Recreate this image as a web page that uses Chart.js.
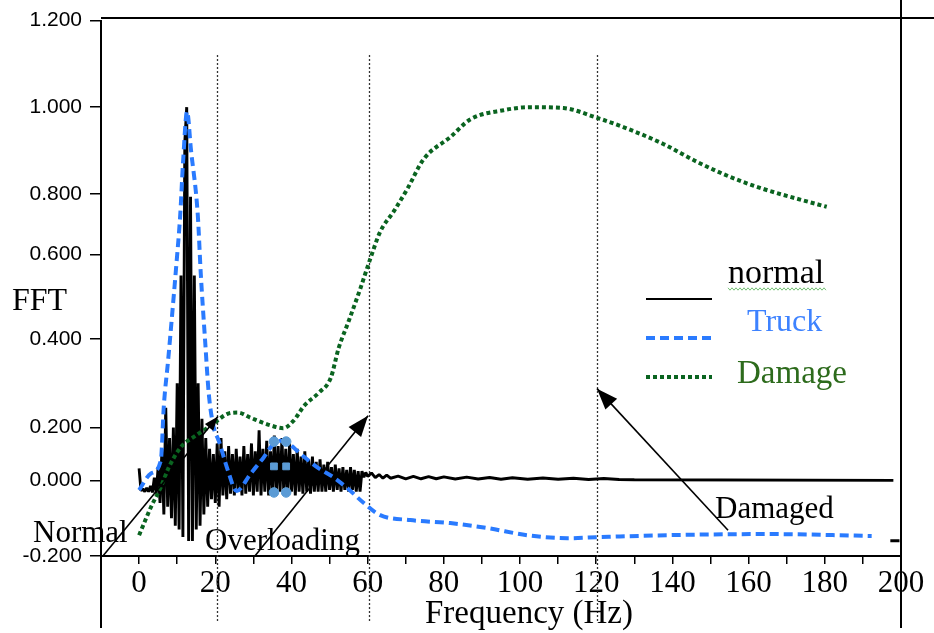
<!DOCTYPE html>
<html>
<head>
<meta charset="utf-8">
<script src="https://cdn.jsdelivr.net/npm/chart.js@4.4.0/dist/chart.umd.min.js"></script>
<style>
  html, body { margin: 0; padding: 0; background: #fff; }
  canvas { display: block; }
</style>
</head>
<body>
<canvas id="fft" width="934" height="633"></canvas>
<script>
// ---- data ----
const xTickValues = [-10, 0, 10, 20, 30, 40, 50, 60, 70, 80, 90, 100, 110, 120, 130, 140, 150, 160, 170, 180, 190, 200];
const xTickLabels = [0, 20, 40, 60, 80, 100, 120, 140, 160, 180, 200];
const yTickValues = [-0.2, 0, 0.2, 0.4, 0.6, 0.8, 1.0, 1.2];

// normal: dense FFT bins (0.5 Hz) up to 58 Hz, then a sparse tail
const normalBin = 0.5;
const normalDense = [
  0.045, -0.028, -0.022, -0.03, -0.02, -0.03, -0.015, -0.032, 0.01, -0.035,
  0.05, -0.06, 0.12, -0.09, 0.245, -0.07, 0.16, -0.1, 0.2, -0.12,
  0.3, -0.13, 0.55, -0.15, 0.92, 1.0, -0.16, 0.79, -0.16, 0.55,
  -0.13, 0.3, -0.12, 0.22, -0.09, 0.16, -0.07, 0.12, -0.05, 0.1,
  -0.06, 0.14, -0.07, 0.16, -0.04, 0.11, -0.05, 0.13, -0.035, 0.1,
  -0.04, 0.12, -0.03, 0.09, -0.04, 0.13, -0.035, 0.1, -0.03, 0.14,
  -0.04, 0.11, -0.03, 0.19, -0.04, 0.12, -0.03, 0.15, -0.04, 0.11,
  -0.035, 0.17, -0.04, 0.13, -0.03, 0.16, -0.04, 0.12, -0.035, 0.14,
  -0.03, 0.1, -0.04, 0.12, -0.03, 0.09, -0.035, 0.11, -0.03, 0.08,
  -0.035, 0.09, -0.03, 0.07, -0.03, 0.08, -0.03, 0.06, -0.03, 0.07,
  -0.025, 0.05, -0.03, 0.06, -0.025, 0.045, -0.03, 0.05, -0.025, 0.04,
  -0.03, 0.05, -0.025, 0.04, -0.03, 0.035, -0.03
];
const normalTailX = [58.5, 59, 59.5, 60, 61, 62, 63, 64, 65, 66, 68, 70, 72, 74, 76, 78, 80, 83, 86, 89, 92, 95, 98, 102, 106, 110, 114, 118, 122, 126, 130, 198];
const normalTailY = [0.035, 0.012, 0.03, 0.015, 0.028, 0.01, 0.022, 0.008, 0.02, 0.008, 0.016, 0.006, 0.015, 0.006, 0.014, 0.006, 0.013, 0.005, 0.012, 0.005, 0.011, 0.004, 0.01, 0.004, 0.009, 0.004, 0.008, 0.003, 0.007, 0.003, 0.002, 0.0];

const truckX = [0, 3.1, 5.7, 6.5, 7.6, 8.6, 9.7, 10.8, 11.5, 12.6, 13.6, 15.4, 16.2, 17.3, 18.3, 19.6, 20.9, 23.3, 25.6, 29.3, 32.7, 35.4, 37.2, 38.9, 42.4, 46.8, 51.1, 54.7, 59, 63.3, 71.2, 81.7, 91.4, 101.9, 112.4, 121, 138.6, 164.8, 192.3];
const truckY = [-0.026, 0.026, 0.075, 0.25, 0.35, 0.45, 0.567, 0.731, 0.867, 0.99, 0.903, 0.731, 0.553, 0.4, 0.276, 0.2, 0.151, 0.038, -0.028, 0.026, 0.087, 0.14, 0.15, 0.143, 0.1, 0.049, 0.011, -0.021, -0.06, -0.092, -0.105, -0.113, -0.126, -0.145, -0.153, -0.15, -0.145, -0.142, -0.147];

const damageX = [0, 3.1, 5.7, 7.8, 10.9, 14.9, 18.8, 23.2, 25.9, 29.3, 34.5, 37.8, 40.5, 43.3, 47.2, 50.3, 52.4, 55, 58.1, 60.7, 63.3, 66.8, 70.4, 74.7, 81.7, 87, 95.7, 102.6, 111.4, 119.7, 127.1, 137.6, 146.4, 155.1, 163.9, 172.6, 180.5];
const damageY = [-0.145, -0.071, -0.018, 0.049, 0.125, 0.17, 0.204, 0.231, 0.234, 0.222, 0.205, 0.198, 0.215, 0.249, 0.279, 0.312, 0.38, 0.442, 0.52, 0.59, 0.675, 0.741, 0.811, 0.88, 0.931, 0.972, 0.993, 1.0, 0.998, 0.977, 0.954, 0.915, 0.874, 0.839, 0.811, 0.784, 0.757];

// stray selection handles left in the figure
const markX = [35.4, 38.6, 35.4, 38.6, 35.4, 38.6];
const markY = [0.147, 0.147, 0.053, 0.053, -0.032, -0.032];
const markShape = ['circle', 'circle', 'rect', 'rect', 'circle', 'circle'];
const edgeX = [197.2, 199.6];
const edgeY = [-0.16, -0.16];

// dotted reference lines (Hz)
const markerFreqs = [20.5, 60.4, 120.2];

// ---- y axis of the original is not evenly spaced: map tick values to fractions of the height ----
const yKnotFractions = [0, 0.1413, 0.2398, 0.4052, 0.5632, 0.6766, 0.8383, 1];

function toFraction(v) {
  const k = yTickValues, f = yKnotFractions;
  let i = 0;
  while (i < k.length - 2 && v > k[i + 1]) i++;
  return f[i] + (v - k[i]) / (k[i + 1] - k[i]) * (f[i + 1] - f[i]);
}
function fromFraction(d) {
  const k = yTickValues, f = yKnotFractions;
  let i = 0;
  while (i < f.length - 2 && d > f[i + 1]) i++;
  return k[i] + (d - f[i]) / (f[i + 1] - f[i]) * (k[i + 1] - k[i]);
}

class KnotScale extends Chart.LinearScale {
  getPixelForValue(value) {
    return this.getPixelForDecimal(toFraction(value));
  }
  getValueForPixel(pixel) {
    return fromFraction(this.getDecimalForPixel(pixel));
  }
}
KnotScale.id = 'knot';
KnotScale.defaults = Chart.LinearScale.defaults;
Chart.register(KnotScale);

const zip = (xs, ys) => xs.map((x, i) => ({ x: x, y: ys[i] }));
const normalData = normalDense.map((y, i) => ({ x: i * normalBin, y: y })).concat(zip(normalTailX, normalTailY));

const SERIF = '"Liberation Serif", "Times New Roman", serif';
const SANS = '"Liberation Sans", Arial, sans-serif';

function drawArrow(ctx, x1, y1, x2, y2, head) {
  ctx.beginPath();
  ctx.moveTo(x1, y1);
  ctx.lineTo(x2, y2);
  ctx.stroke();
  const a = Math.atan2(y2 - y1, x2 - x1);
  const w = head * 0.38;
  const bx = x2 - head * Math.cos(a), by = y2 - head * Math.sin(a);
  ctx.beginPath();
  ctx.moveTo(x2, y2);
  ctx.lineTo(bx + w * Math.sin(a), by - w * Math.cos(a));
  ctx.lineTo(bx - w * Math.sin(a), by + w * Math.cos(a));
  ctx.closePath();
  ctx.fill();
}

const decor = {
  id: 'decor',
  beforeDatasetsDraw(chart) {
    const { ctx, scales: { x } } = chart;
    ctx.save();
    ctx.strokeStyle = '#333';
    ctx.lineWidth = 1.3;
    ctx.setLineDash([2, 2]);
    markerFreqs.forEach(f => {
      const px = Math.round(x.getPixelForValue(f)) + 0.5;
      ctx.beginPath();
      ctx.moveTo(px, 55);
      ctx.lineTo(px, 622);
      ctx.stroke();
    });
    ctx.restore();
  },
  afterDatasetsDraw(chart) {
    const { ctx, scales: { x, y } } = chart;
    ctx.save();
    // arrows (data coordinates)
    ctx.strokeStyle = '#000';
    ctx.fillStyle = '#000';
    ctx.lineWidth = 1.6;
    const arrows = [
      [-9.5, -0.2, 20.7, 0.225, 14],
      [30.4, -0.2, 60.1, 0.227, 21],
      [154.6, -0.132, 120.2, 0.288, 21]
    ];
    arrows.forEach(a => drawArrow(ctx, x.getPixelForValue(a[0]), y.getPixelForValue(a[1]),
      x.getPixelForValue(a[2]), y.getPixelForValue(a[3]), a[4]));

    // annotation texts
    ctx.textAlign = 'left';
    ctx.textBaseline = 'alphabetic';
    ctx.font = '31px ' + SERIF;
    ctx.fillText('Normal', 33, 542);
    ctx.fillText('Overloading', 205, 550);
    ctx.fillText('Damaged', 715, 518);
    ctx.restore();
  },
  afterDraw(chart) {
    const { ctx } = chart;
    ctx.save();
    // outer frame lines that run past the plot area
    ctx.strokeStyle = '#000';
    ctx.lineWidth = 2;
    ctx.beginPath();
    ctx.moveTo(101, 556); ctx.lineTo(101, 628);
    ctx.moveTo(901, 0); ctx.lineTo(901, 628);
    ctx.moveTo(101, 18); ctx.lineTo(934, 18);
    ctx.stroke();

    // axis titles
    ctx.fillStyle = '#000';
    ctx.textBaseline = 'alphabetic';
    ctx.textAlign = 'left';
    ctx.font = '32px ' + SERIF;
    ctx.fillText('FFT', 12, 310);
    ctx.font = '33px ' + SERIF;
    ctx.fillText('Frequency (Hz)', 425, 623);

    // hand-placed legend
    const ds = chart.data.datasets;
    const rows = [
      { d: ds[0], ly: 299, tx: 728, ty: 283, color: '#000', size: 34, lw: 2 },
      { d: ds[1], ly: 338, tx: 747, ty: 331, color: '#3d82ff', size: 32, lw: 4 },
      { d: ds[2], ly: 377, tx: 737, ty: 383, color: '#2d6b1c', size: 33, lw: 4 }
    ];
    rows.forEach(r => {
      ctx.strokeStyle = r.d.borderColor;
      ctx.lineWidth = r.lw;
      ctx.setLineDash(r.d.borderDash || []);
      ctx.beginPath();
      ctx.moveTo(646, r.ly);
      ctx.lineTo(712, r.ly);
      ctx.stroke();
      ctx.setLineDash([]);
      ctx.fillStyle = r.color;
      ctx.font = r.size + 'px ' + SERIF;
      ctx.fillText(r.d.label, r.tx, r.ty);
    });
    // spell-check squiggle under "normal"
    ctx.strokeStyle = '#74c074';
    ctx.lineWidth = 1;
    ctx.beginPath();
    for (let px = 728, k = 0; px <= 827; px += 2, k++) {
      const py = 289 + (k % 2 ? 1.2 : -1.2);
      if (k === 0) ctx.moveTo(px, py); else ctx.lineTo(px, py);
    }
    ctx.stroke();
    ctx.restore();
  }
};

new Chart(document.getElementById('fft'), {
  type: 'line',
  data: {
    datasets: [
      {
        label: 'normal',
        data: normalData,
        borderColor: '#000',
        borderWidth: 2.9,
        borderJoinStyle: 'bevel',
        pointRadius: 0,
        tension: 0,
        order: 3
      },
      {
        label: 'Truck',
        data: zip(truckX, truckY),
        borderColor: '#2a7bff',
        borderWidth: 4,
        borderDash: [9, 5],
        pointRadius: 0,
        cubicInterpolationMode: 'monotone',
        order: 2
      },
      {
        label: 'Damage',
        data: zip(damageX, damageY),
        borderColor: '#0a6420',
        borderWidth: 4,
        borderDash: [4, 3],
        pointRadius: 0,
        cubicInterpolationMode: 'monotone',
        order: 1
      },
      {
        label: 'marks',
        data: zip(markX, markY),
        showLine: false,
        pointStyle: markShape,
        pointRadius: 4.8,
        pointBackgroundColor: '#5b9bd5',
        pointBorderColor: '#5b9bd5',
        order: 0
      },
      {
        label: 'edge',
        data: zip(edgeX, edgeY),
        borderColor: '#000',
        borderWidth: 3,
        pointRadius: 0,
        order: 0
      }
    ]
  },
  options: {
    responsive: false,
    animation: false,
    devicePixelRatio: 1,
    layout: { padding: { top: 18, right: 33, left: 0, bottom: 0 } },
    plugins: {
      legend: { display: false },
      tooltip: { enabled: false }
    },
    scales: {
      x: {
        type: 'linear',
        min: -10,
        max: 200,
        afterBuildTicks: s => { s.ticks = xTickValues.map(v => ({ value: v })); },
        afterFit: s => { s.height = 77; },
        ticks: {
          autoSkip: false,
          maxRotation: 0,
          padding: 1,
          color: '#000',
          font: { family: SERIF, size: 31 },
          callback: v => xTickLabels.includes(v) ? String(v) : ''
        },
        grid: { drawOnChartArea: false, drawTicks: true, tickLength: 8, color: '#000', lineWidth: 1.5 },
        border: { display: true, color: '#000', width: 2 }
      },
      y: {
        type: 'knot',
        min: -0.2,
        max: 1.2,
        afterBuildTicks: s => { s.ticks = yTickValues.map(v => ({ value: v })); },
        afterFit: s => { s.width = 101; },
        ticks: {
          autoSkip: false,
          padding: 8,
          color: '#000',
          font: { family: SANS, size: 21 },
          callback: v => v.toFixed(3)
        },
        grid: { drawOnChartArea: false, drawTicks: true, tickLength: 11, color: '#000', lineWidth: 1.5 },
        border: { display: true, color: '#000', width: 2 }
      }
    }
  },
  plugins: [decor]
});
</script>
</body>
</html>
